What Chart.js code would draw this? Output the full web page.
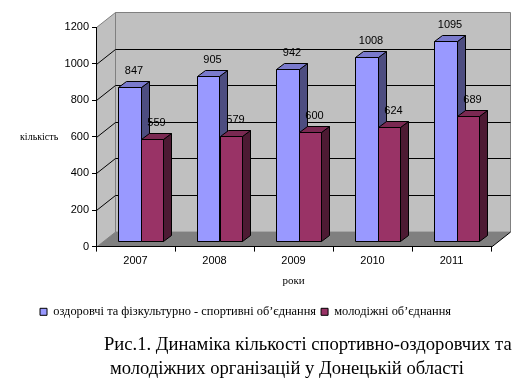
<!DOCTYPE html>
<html lang="uk">
<head>
<meta charset="utf-8">
<title>Динаміка кількості організацій</title>
<script src="https://cdn.jsdelivr.net/npm/chart.js@4.4.0/dist/chart.umd.min.js"></script>
<style>
  html, body { margin: 0; padding: 0; background: #fff; }
  .wrap { position: relative; width: 530px; height: 385px; overflow: hidden; }
  #chart { position: absolute; left: 0; top: 0; }
  .caption {
    position: absolute;
    font-family: 'Liberation Serif', 'Times New Roman', serif;
    font-size: 18.6px;
    line-height: 1;
    color: #000;
    white-space: nowrap;
  }
</style>
</head>
<body>
<div class="wrap">
  <canvas id="chart" width="530" height="385"></canvas>
  <div class="caption" style="left:104px; top:335px">Рис.1. Динаміка кількості спортивно-оздоровчих та</div>
  <div class="caption" style="left:110px; top:359px">молодіжних організацій у Донецькій області</div>
</div>
<script>
const years = ['2007', '2008', '2009', '2010', '2011'];
const sportClubs = [847, 905, 942, 1008, 1095];
const youthClubs = [559, 579, 600, 624, 689];
const seriesNames = ['оздоровчі та фізкультурно - спортивні об’єднання', 'молодіжні об’єднання'];
const yMax = 1200;
const yStep = 200;

const frontColors = ['#9999ff', '#993366'];
const topColors = ['#7a7acc', '#7a2952'];
const sideColors = ['#4d4d80', '#4d1a33'];

const SANS = "'Liberation Sans', Arial, sans-serif";
const SERIF = "'Liberation Serif', 'Times New Roman', serif";

// 3d look: depth of the walls, where the bars stand, how deep a bar is
const WALL = { dx: 19, dy: -15 };
const SHIFT = { dx: 5, dy: -5 };
const DEPTH = { dx: 8, dy: -6 };

function poly(ctx, pts) {
  ctx.beginPath();
  pts.forEach((p, i) => (i ? ctx.lineTo(p[0], p[1]) : ctx.moveTo(p[0], p[1])));
  ctx.closePath();
}

const box3d = {
  id: 'box3d',
  beforeDraw(chart) {
    const { ctx, chartArea: a } = chart;
    const y = chart.scales.y;
    const L = a.left + 0.5, R = a.right + 0.5, T = a.top + 0.5, B = a.bottom + 0.5;
    const dx = WALL.dx, dy = WALL.dy;
    ctx.save();
    ctx.lineWidth = 1;

    // back wall + side wall
    ctx.fillStyle = '#c0c0c0';
    ctx.strokeStyle = '#808080';
    poly(ctx, [[L + dx, T + dy], [R + dx, T + dy], [R + dx, B + dy], [L + dx, B + dy]]);
    ctx.fill();
    ctx.stroke();
    poly(ctx, [[L, T], [L + dx, T + dy], [L + dx, B + dy], [L, B]]);
    ctx.fill();
    ctx.stroke();

    // floor
    ctx.fillStyle = '#808080';
    poly(ctx, [[L, B], [R, B], [R + dx, B + dy], [L + dx, B + dy]]);
    ctx.fill();
    ctx.strokeStyle = '#000';
    ctx.beginPath();
    ctx.moveTo(R, B);
    ctx.lineTo(R + dx, B + dy);
    ctx.stroke();

    // gridlines on side and back wall
    y.ticks.forEach((t) => {
      if (t.value <= 0 || t.value >= yMax) return;
      const py = Math.round(y.getPixelForValue(t.value)) + 0.5;
      ctx.beginPath();
      ctx.moveTo(L, py);
      ctx.lineTo(L + dx, py + dy);
      ctx.lineTo(R + dx, py + dy);
      ctx.stroke();
    });

    // y axis title, written across
    ctx.fillStyle = '#000';
    ctx.font = '10px ' + SERIF;
    ctx.textAlign = 'left';
    ctx.textBaseline = 'middle';
    ctx.fillText('кількість', 20, (a.top + a.bottom) / 2 + 1);
    ctx.restore();
  },
  beforeDatasetsDraw(chart) {
    const ctx = chart.ctx;
    ctx.save();
    ctx.lineWidth = 1;
    ctx.strokeStyle = '#000';
    const labels = [];
    chart.data.labels.forEach((lbl, i) => {
      chart.data.datasets.forEach((ds, d) => {
        const bar = chart.getDatasetMeta(d).data[i];
        const x0 = Math.round(bar.x - bar.width / 2 + SHIFT.dx) + 0.5;
        const x1 = Math.round(bar.x + bar.width / 2 + SHIFT.dx) + 0.5;
        const yt = Math.round(bar.y + SHIFT.dy) + 0.5;
        const yb = Math.round(bar.base + SHIFT.dy) + 0.5;
        const ex = DEPTH.dx, ey = DEPTH.dy;
        // side
        ctx.fillStyle = sideColors[d];
        poly(ctx, [[x1, yt], [x1 + ex, yt + ey], [x1 + ex, yb + ey], [x1, yb]]);
        ctx.fill();
        ctx.stroke();
        // top
        ctx.fillStyle = topColors[d];
        poly(ctx, [[x0, yt], [x0 + ex, yt + ey], [x1 + ex, yt + ey], [x1, yt]]);
        ctx.fill();
        ctx.stroke();
        // front
        ctx.fillStyle = frontColors[d];
        poly(ctx, [[x0, yt], [x1, yt], [x1, yb], [x0, yb]]);
        ctx.fill();
        ctx.stroke();
        labels.push([String(ds.data[i]), (x0 + x1) / 2 + ex / 2, yt + ey / 2 - 14]);
      });
    });
    ctx.fillStyle = '#000';
    ctx.font = '11px ' + SANS;
    ctx.textAlign = 'center';
    ctx.textBaseline = 'middle';
    labels.forEach((l) => ctx.fillText(l[0], l[1], l[2]));
    ctx.restore();
    return false;
  }
};

new Chart(document.getElementById('chart'), {
  type: 'bar',
  data: {
    labels: years,
    datasets: [
      { label: seriesNames[0], data: sportClubs, backgroundColor: frontColors[0], borderColor: '#000', borderWidth: 1 },
      { label: seriesNames[1], data: youthClubs, backgroundColor: frontColors[1], borderColor: '#000', borderWidth: 1 }
    ]
  },
  options: {
    responsive: false,
    animation: false,
    events: [],
    barPercentage: 1,
    categoryPercentage: 0.575,
    layout: { padding: { left: 0, top: 27, right: 39, bottom: 57 } },
    plugins: {
      tooltip: { enabled: false },
      legend: {
        position: 'bottom',
        labels: {
          boxWidth: 7,
          boxHeight: 7,
          padding: 5,
          color: '#000',
          font: { family: SERIF, size: 12.4 }
        }
      }
    },
    scales: {
      x: {
        offset: true,
        grid: { offset: true, drawOnChartArea: false, tickLength: 5, color: '#000' },
        border: { color: '#000' },
        ticks: { color: '#000', padding: 3, font: { family: SANS, size: 11 } },
        title: {
          display: true,
          text: 'роки',
          color: '#000',
          font: { family: SERIF, size: 11 },
          padding: { top: 0, bottom: 13 }
        },
        afterFit(s) { s.height = 54; }
      },
      y: {
        min: 0,
        max: yMax,
        grid: { drawOnChartArea: false, tickLength: 4, color: '#000' },
        border: { color: '#000' },
        ticks: {
          stepSize: yStep,
          color: '#000',
          padding: 3,
          font: { family: SANS, size: 11 },
          callback: (v) => String(v)
        },
        afterFit(s) { s.width = 96; }
      }
    }
  },
  plugins: [box3d]
});
</script>
</body>
</html>
